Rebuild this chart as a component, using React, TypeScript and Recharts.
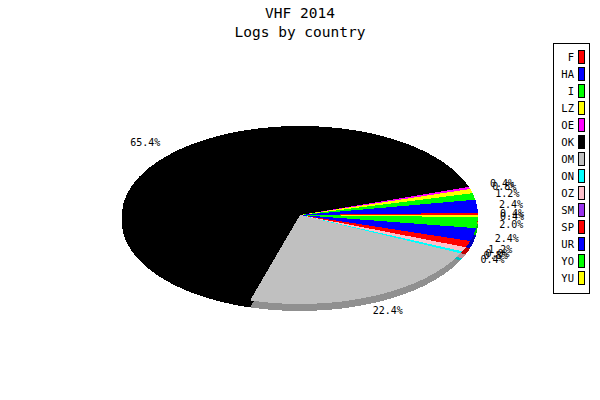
import React from "react";
import { PieChart, Pie, Cell, Legend } from "recharts";

// log counts per country (percentages are computed by the pie)
const countries = ["F", "HA", "I", "LZ", "OE", "OK", "OM", "ON", "OZ", "SM", "SP", "UR", "YO", "YU"];
const logs = [1, 6, 3, 2, 1, 166, 57, 1, 2, 0, 3, 6, 5, 1];
const colors = ["#ff0000", "#0000ff", "#00ff00", "#ffff00", "#ff00ff", "#000000", "#c0c0c0", "#00ffff", "#ffc0cb", "#9933ee", "#ff0000", "#0000ff", "#00ff00", "#ffff00"];
const sideColors = ["#c00000", "#0000c0", "#00c000", "#c0c000", "#c000c0", "#000000", "#909090", "#00c0c0", "#c09098", "#7020b0", "#c00000", "#0000c0", "#00c000", "#c0c000"];

const data = countries.map((name, i) => ({ name, value: logs[i] }));

const CX = 300;
const CY = 215;
const RX = 178;
const SQUASH = 0.5;
const DEPTH = 7;
const FONT = "'DejaVu Sans Mono', monospace";

function ellipseSector(cx: number, cy: number, rx: number, ry: number, a0: number, a1: number) {
  const rad = Math.PI / 180;
  const x0 = cx + rx * Math.cos(a0 * rad);
  const y0 = cy - ry * Math.sin(a0 * rad);
  const x1 = cx + rx * Math.cos(a1 * rad);
  const y1 = cy - ry * Math.sin(a1 * rad);
  const large = Math.abs(a1 - a0) > 180 ? 1 : 0;
  const sweep = a1 > a0 ? 0 : 1;
  return `M${cx},${cy} L${x0},${y0} A${rx},${ry} 0 ${large} ${sweep} ${x1},${y1} Z`;
}

function TopShape(props: any) {
  const { cx, cy, outerRadius, startAngle, endAngle, fill } = props;
  if (startAngle === endAngle) return null;
  return (
    <path
      d={ellipseSector(cx, cy, outerRadius, outerRadius * SQUASH, startAngle, endAngle)}
      fill={fill}
      stroke="none"
      shapeRendering="crispEdges"
    />
  );
}

function SideShape(props: any) {
  const { cx, cy, outerRadius, startAngle, endAngle, fill } = props;
  if (startAngle === endAngle) return null;
  return (
    <path
      d={ellipseSector(cx, cy + DEPTH, outerRadius, outerRadius * SQUASH, startAngle, endAngle)}
      fill={fill}
      stroke="none"
      shapeRendering="crispEdges"
    />
  );
}

function renderLabel(props: any) {
  const { midAngle, percent } = props;
  const rad = (midAngle * Math.PI) / 180;
  const c = Math.cos(rad);
  const text = `${(percent * 100).toFixed(1)}%`;
  const w = text.length * 6;
  const x = CX + 200 * c - (w * (1 - c)) / 2;
  const y = CY - 105 * Math.sin(rad);
  return (
    <text x={x} y={y} fill="#000" fontSize={10} fontFamily={FONT} textAnchor="start" dominantBaseline="central">
      {text}
    </text>
  );
}

function LegendBox(props: any) {
  const payload = countries.map((name, i) => ({ name, color: colors[i] }));
  return (
    <div
      style={{
        width: 35,
        height: 249,
        border: "1px solid #000",
        background: "#fff",
        position: "relative",
        fontFamily: FONT,
        fontSize: 10.5,
      }}
    >
      {payload.map((p, i) => (
        <div key={p.name} style={{ position: "absolute", top: 6 + i * 17, left: 0, width: 35, height: 14 }}>
          <span style={{ position: "absolute", right: 15, top: 0, lineHeight: "14px" }}>{p.name}</span>
          <span
            style={{
              position: "absolute",
              left: 24,
              top: 0,
              width: 5,
              height: 12,
              background: p.color,
              border: "1px solid #000",
            }}
          />
        </div>
      ))}
    </div>
  );
}

export default function App() {
  return (
    <div style={{ position: "absolute", left: 0, top: 0, width: 600, height: 400, background: "#fff" }}>
      <div
        style={{
          position: "absolute",
          left: 0,
          top: 4,
          width: 600,
          textAlign: "center",
          fontFamily: FONT,
          fontSize: 14.5,
          lineHeight: "19px",
          color: "#000",
          zIndex: 2,
        }}
      >
        <div>VHF 2014</div>
        <div>Logs by country</div>
      </div>
      <PieChart width={600} height={400} margin={{ top: 0, right: 0, bottom: 0, left: 0 }}>
        <Pie
          data={data}
          dataKey="value"
          nameKey="name"
          cx={CX}
          cy={CY}
          outerRadius={RX}
          startAngle={0}
          endAngle={360}
          stroke="none"
          legendType="none"
          isAnimationActive={false}
          shape={SideShape}
          inactiveShape={SideShape}
          activeShape={SideShape}
          label={false}
          labelLine={false}
        >
          {data.map((d, i) => (
            <Cell key={d.name} fill={sideColors[i]} />
          ))}
        </Pie>
        <Pie
          data={data}
          dataKey="value"
          nameKey="name"
          cx={CX}
          cy={CY}
          outerRadius={RX}
          startAngle={0}
          endAngle={360}
          stroke="none"
          isAnimationActive={false}
          shape={TopShape}
          inactiveShape={TopShape}
          activeShape={TopShape}
          label={renderLabel}
          labelLine={false}
        >
          {data.map((d, i) => (
            <Cell key={d.name} fill={colors[i]} />
          ))}
        </Pie>
        <Legend
          layout="vertical"
          content={LegendBox}
          wrapperStyle={{ position: "absolute", left: 553, top: 43, width: 37 }}
        />
      </PieChart>
    </div>
  );
}
